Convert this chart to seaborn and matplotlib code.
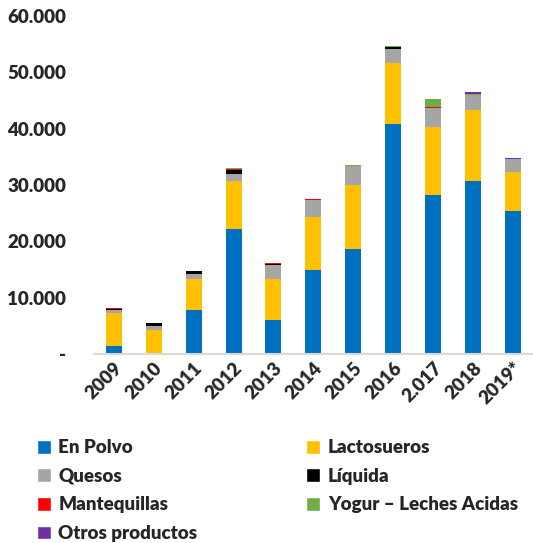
import matplotlib.pyplot as plt
import matplotlib.ticker as mticker
from matplotlib.patches import Patch
import pandas as pd
import seaborn as sns

years = ["2009", "2010", "2011", "2012", "2013", "2014", "2015", "2016", "2.017", "2018", "2019*"]

en_polvo = [1420, 100, 7870, 22150, 6040, 14920, 18700, 40900, 28190, 30730, 25400]
lactosueros = [5920, 4160, 5450, 8520, 7330, 9470, 11320, 10790, 12130, 12610, 6930]
quesos = [530, 710, 880, 1360, 2490, 2910, 3310, 2540, 3420, 2720, 2250]
liquida = [150, 530, 480, 710, 150, 100, 100, 200, 0, 0, 0]
mantequillas = [80, 60, 120, 160, 150, 80, 0, 0, 180, 0, 120]
yogur = [0, 0, 0, 150, 0, 50, 100, 250, 1370, 180, 0]
otros = [0, 0, 0, 0, 0, 0, 0, 0, 0, 290, 110]

series = ["En Polvo", "Lactosueros", "Quesos", "Líquida", "Mantequillas",
          "Yogur – Leches Acidas", "Otros productos"]
colors = ["#0070C0", "#FFC000", "#A5A5A5", "#000000", "#FF0000", "#70AD47", "#7030A0"]

df = pd.DataFrame(
    {
        "year": years,
        "En Polvo": en_polvo,
        "Lactosueros": lactosueros,
        "Quesos": quesos,
        "Líquida": liquida,
        "Mantequillas": mantequillas,
        "Yogur – Leches Acidas": yogur,
        "Otros productos": otros,
    }
)

# cumulative stacks, drawn from the top down so each layer covers the next
cum = df[series].cumsum(axis=1)
cum["year"] = df["year"]

sns.set_style("white")
plt.rcParams["font.family"] = ["Lato", "DejaVu Sans"]
plt.rcParams["font.weight"] = "heavy"

fig = plt.figure(figsize=(5.33, 5.43), dpi=100)
ax = fig.add_axes([0.176, 0.348, 0.824, 0.6225])

for name, color in reversed(list(zip(series, colors))):
    sns.barplot(data=cum, x="year", y=name, order=years, color=color, width=0.4,
                saturation=1, edgecolor="none", ax=ax)

ax.set_ylim(0, 60000)
ax.set_xlim(-0.5, len(years) - 0.5)
ax.yaxis.set_major_locator(mticker.MultipleLocator(10000))
ax.yaxis.set_major_formatter(
    mticker.FuncFormatter(lambda v, p: "-" if v == 0 else f"{int(v):,}".replace(",", "."))
)
ax.set_xlabel("")
ax.set_ylabel("")

for s in ["top", "right", "left"]:
    ax.spines[s].set_visible(False)
ax.spines["bottom"].set_color("#D9D9D9")
ax.spines["bottom"].set_linewidth(1.5)

ax.set_xticks(range(len(years)))
ax.set_xticklabels(years, rotation=45, ha="right", rotation_mode="anchor",
                   fontweight="heavy", fontsize=13.5)
ax.tick_params(axis="both", length=0, labelsize=13.5)
ax.tick_params(axis="y", pad=20)
for lbl in ax.get_yticklabels():
    lbl.set_fontweight("heavy")

handles = [Patch(facecolor=c, label=n) for n, c in zip(series, colors)]
order = [0, 2, 4, 6, 1, 3, 5]
fig.legend(
    [handles[i] for i in order],
    [series[i] for i in order],
    ncol=2,
    loc="upper left",
    bbox_to_anchor=(0.055, 0.205),
    frameon=False,
    prop={"size": 13.5, "weight": "heavy"},
    handlelength=0.75,
    handleheight=0.75,
    handletextpad=0.4,
    labelspacing=0.62,
    columnspacing=5.8,
    borderaxespad=0,
)

fig.savefig("out.png", dpi=100)
